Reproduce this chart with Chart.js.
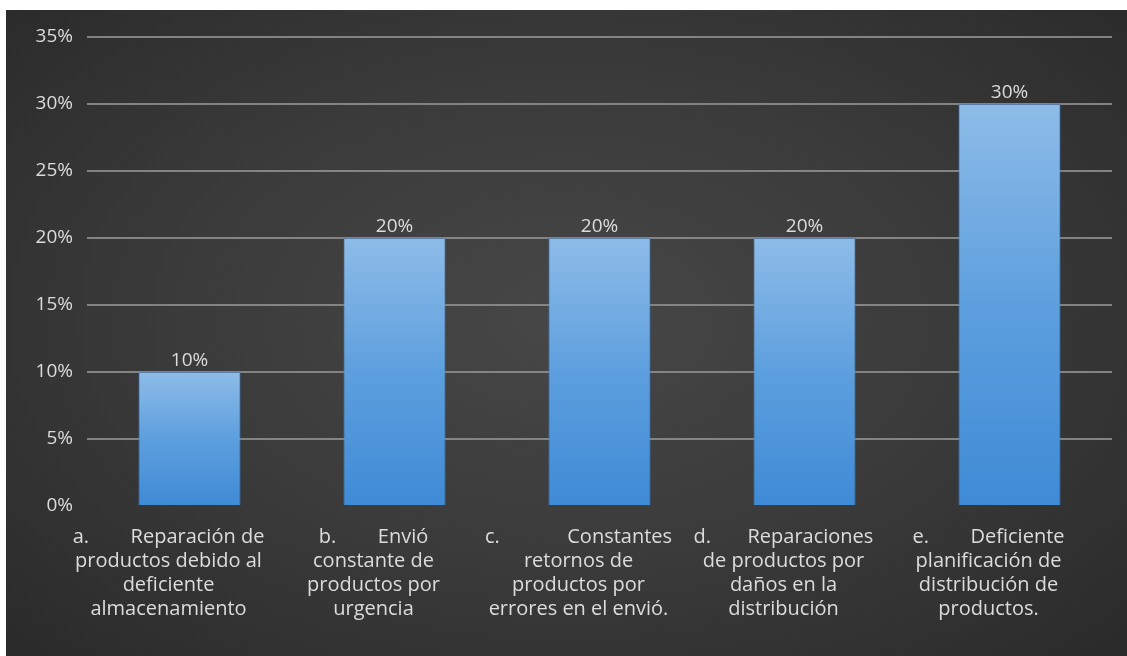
<!DOCTYPE html>
<html lang="es">
<head>
<meta charset="utf-8">
<title>Causas</title>
<script src="https://cdn.jsdelivr.net/npm/chart.js@4/dist/chart.umd.min.js"></script>
<style>
  html, body { margin: 0; padding: 0; background: #ffffff; }
  body { width: 1127px; height: 656px; overflow: hidden; position: relative; }
  #frame {
    position: absolute; left: 6px; top: 10px; width: 1121px; height: 646px;
    background: radial-gradient(ellipse 75% 80% at 50% 48%, #474747 0%, #3b3b3b 45%, #2d2d2d 85%, #272727 100%);
  }
  canvas { display: block; }
</style>
</head>
<body>
<div id="frame"><canvas id="chart" width="1121" height="646"></canvas></div>
<script>
// Categories, one array of text lines per bar
const categories = [
  ["a.        Reparación de", "productos debido al", "deficiente", "almacenamiento"],
  ["b.        Envió", "constante de", "productos por", "urgencia"],
  ["c.             Constantes", "retornos de", "productos por", "errores en el envió."],
  ["d.       Reparaciones", "de productos por", "daños en la", "distribución"],
  ["e.        Deficiente", "planificación de", "distribución de", "productos."]
];

// Share of each cause
const values = [0.10, 0.20, 0.20, 0.20, 0.30];

// Value axis ticks
const tickValues = [0, 0.05, 0.10, 0.15, 0.20, 0.25, 0.30, 0.35];

const pct = v => Math.round(v * 100) + '%';
const textColor = '#dcdcdc';
const fontFamily = '"Open Sans", "Segoe UI", sans-serif';

// Vertical gradient per bar: light at its top, deeper blue at its base
function barFill(ctx) {
  const chart = ctx.chart;
  const area = chart.chartArea;
  if (!area || ctx.type !== 'data') return '#5b9bd5';
  const y = chart.scales.y;
  const top = y.getPixelForValue(values[ctx.dataIndex]);
  const base = y.getPixelForValue(0);
  const g = chart.ctx.createLinearGradient(0, top, 0, base);
  g.addColorStop(0, '#8dbce8');
  g.addColorStop(0.5, '#5d9fde');
  g.addColorStop(1, '#3f8bd6');
  return g;
}

// Value printed above each bar
const valueLabels = {
  id: 'valueLabels',
  afterDatasetsDraw(chart) {
    const ctx = chart.ctx;
    const meta = chart.getDatasetMeta(0);
    ctx.save();
    ctx.fillStyle = textColor;
    ctx.font = '19px ' + fontFamily;
    ctx.textAlign = 'center';
    ctx.textBaseline = 'bottom';
    meta.data.forEach((bar, i) => {
      ctx.fillText(pct(chart.data.datasets[0].data[i]), bar.x, bar.y - 2);
    });
    ctx.restore();
  }
};

new Chart(document.getElementById('chart'), {
  type: 'bar',
  data: {
    labels: categories,
    datasets: [{
      data: values,
      backgroundColor: barFill,
      borderColor: 'rgba(60,120,190,0.55)',
      borderWidth: 1,
      barPercentage: 0.5,
      categoryPercentage: 1.0
    }]
  },
  options: {
    responsive: false,
    animation: false,
    devicePixelRatio: 1,
    layout: { padding: { left: 5, right: 15, top: 27, bottom: 0 } },
    plugins: {
      legend: { display: false },
      tooltip: { enabled: false },
      title: { display: false }
    },
    scales: {
      x: {
        grid: { display: false, drawTicks: false },
        border: { display: false },
        ticks: {
          color: textColor,
          font: { family: fontFamily, size: 20, lineHeight: 1.2 },
          padding: 19,
          labelOffset: -21,
          maxRotation: 0,
          autoSkip: false
        },
        afterFit(s) { s.height = 150; }
      },
      y: {
        min: 0,
        max: 0.35,
        afterBuildTicks(s) { s.ticks = tickValues.map(v => ({ value: v })); },
        grid: {
          color: ctx => ctx.tick && ctx.tick.value === 0 ? 'rgba(0,0,0,0)' : 'rgba(140,140,140,0.9)',
          lineWidth: 2,
          drawTicks: false
        },
        border: { display: false },
        ticks: {
          color: textColor,
          font: { family: fontFamily, size: 19 },
          padding: 14,
          callback: v => pct(v)
        },
        afterFit(s) { s.width = 76; }
      }
    }
  },
  plugins: [valueLabels]
});
</script>
</body>
</html>
